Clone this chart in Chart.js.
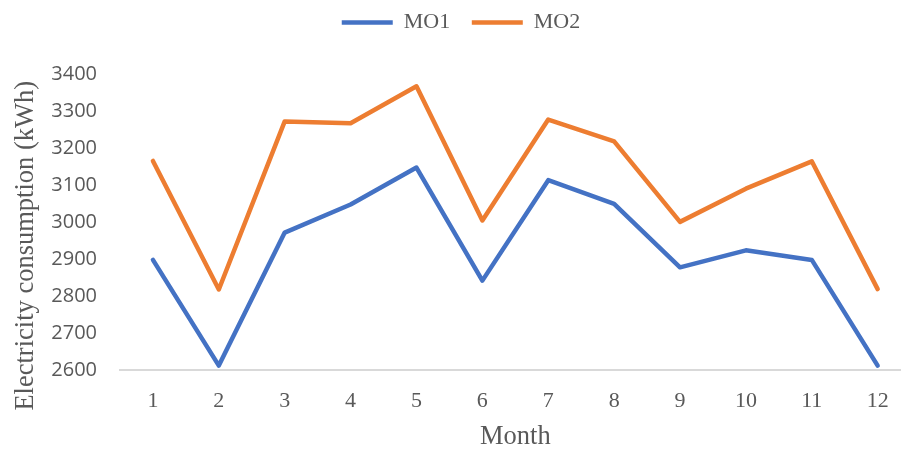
<!DOCTYPE html>
<html>
<head>
<meta charset="utf-8">
<script src="https://cdn.jsdelivr.net/npm/chart.js@4/dist/chart.umd.min.js"></script>
<style>
  html, body { margin: 0; padding: 0; background: #ffffff; overflow: hidden; }
  #frame { width: 901px; height: 449px; overflow: hidden; position: relative; }
  #chart { display: block; }
</style>
</head>
<body>
<div id="frame"><canvas id="chart" width="922" height="449"></canvas></div>
<script>
// Monthly electricity consumption for two operating modes
const months = ['1', '2', '3', '4', '5', '6', '7', '8', '9', '10', '11', '12'];
const mo1 = [2898, 2612, 2972, 3048, 3148, 2842, 3114, 3050, 2878, 2924, 2898, 2612];
const mo2 = [3166, 2818, 3273, 3268, 3368, 3005, 3278, 3219, 3001, 3091, 3165, 2819];
const seriesNames = ['MO1', 'MO2'];
const yTicks = { min: 2600, max: 3400, step: 100 };
const xTitle = 'Month';
const yTitle = 'Electricity consumption (kWh)';

const textGrey = '#595959';
const serif = '"Liberation Serif", "Times New Roman", serif';

// Legend sits higher than the default stacking would put it
const LEGEND_LIFT = 31;
const legendLift = {
  id: 'legendLift',
  afterLayout(chart) {
    const lg = chart.legend;
    if (!lg) return;
    lg.top -= LEGEND_LIFT;
    lg.bottom -= LEGEND_LIFT;
  }
};

// Vertical axis title, centred a little below the plot middle
const yAxisTitle = {
  id: 'yAxisTitle',
  afterDraw(chart) {
    const { ctx, chartArea, scales } = chart;
    const y = scales.y;
    ctx.save();
    ctx.translate(y.left + 14.6, (chartArea.top + chartArea.bottom) / 2 + 23.5);
    ctx.rotate(-Math.PI / 2);
    ctx.font = '26.5px ' + serif;
    ctx.fillStyle = textGrey;
    ctx.textAlign = 'center';
    ctx.textBaseline = 'middle';
    ctx.fillText(yTitle, 0, 0);
    ctx.restore();
  }
};

new Chart(document.getElementById('chart'), {
  type: 'line',
  data: {
    labels: months,
    datasets: [
      {
        label: seriesNames[0],
        data: mo1,
        borderColor: '#4472C4',
        backgroundColor: '#4472C4',
        borderWidth: 4.5,
        borderCapStyle: 'round',
        borderJoinStyle: 'round',
        pointRadius: 0,
        tension: 0
      },
      {
        label: seriesNames[1],
        data: mo2,
        borderColor: '#ED7D31',
        backgroundColor: '#ED7D31',
        borderWidth: 4.5,
        borderCapStyle: 'round',
        borderJoinStyle: 'round',
        pointRadius: 0,
        tension: 0
      }
    ]
  },
  options: {
    responsive: false,
    animation: false,
    devicePixelRatio: 1,
    layout: { padding: { top: 20.9, left: 11.4, right: 11.4, bottom: 0 } },
    plugins: {
      legend: {
        position: 'top',
        labels: {
          usePointStyle: true,
          pointStyle: 'line',
          pointStyleWidth: 51,
          padding: 21.6,
          color: textGrey,
          font: { family: serif, size: 22 }
        }
      },
      tooltip: { enabled: false },
      title: { display: false }
    },
    scales: {
      x: {
        type: 'category',
        offset: true,
        grid: { display: false, drawTicks: false },
        border: { display: true, color: '#d9d9d9', width: 2 },
        ticks: {
          color: textGrey,
          padding: 18,
          font: { family: serif, size: 22 }
        },
        title: {
          display: true,
          text: xTitle,
          color: textGrey,
          font: { family: serif, size: 26.5 },
          padding: { top: 0, bottom: -4 }
        },
        afterFit(scale) { scale.height = 79; }
      },
      y: {
        min: yTicks.min,
        max: yTicks.max,
        grid: { display: false, drawTicks: false },
        border: { display: false },
        ticks: {
          stepSize: yTicks.step,
          color: textGrey,
          padding: 23,
          font: { family: '"Open Sans", sans-serif', size: 20 },
          callback: (value) => String(value)
        },
        afterFit(scale) { scale.width = 108.6; }
      }
    }
  },
  plugins: [legendLift, yAxisTitle]
});
</script>
</body>
</html>
